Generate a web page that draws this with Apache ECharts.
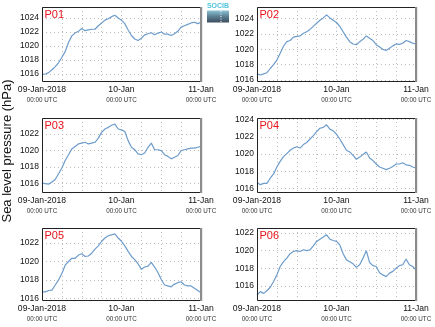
<!DOCTYPE html>
<html><head><meta charset="utf-8">
<script src="https://cdn.jsdelivr.net/npm/echarts@6/dist/echarts.min.js"></script>
<style>html,body{margin:0;padding:0;background:#fff}#c{width:435px;height:327px}</style>
</head><body><div id="c"></div>
<script>
// ---- data ----
const hours = [0,1,2,3,4,5,6,7,8,9,10,11,12,13,14,15,16,17,18,19,20,21,22,23,24,25,26,27,28,29,30,31,32,33,34,35,36,37,38,39,40,41,42,43,44,45,46,47,48];
const xTickHours = [0, 24, 48];
const xTickDates = ['09-Jan-2018', '10-Jan', '11-Jan'];
const xTickTimes = ['00:00 UTC', '00:00 UTC', '00:00 UTC'];
const panelNames = ['P01', 'P02', 'P03', 'P04', 'P05', 'P06'];
const yAxisTitle = 'Sea level pressure (hPa)';

const p01 = [1015.9,1016.0,1016.2,1016.6,1017.05,1017.6,1018.4,1019.2,1020.5,1021.45,1021.85,1022.1,1022.5,1022.2,1022.3,1022.4,1022.4,1022.9,1023.3,1023.7,1023.9,1024.2,1024.4,1024.0,1023.7,1023.2,1022.3,1021.5,1021.0,1020.8,1021.1,1021.6,1021.75,1021.9,1021.6,1021.85,1022.0,1021.7,1021.7,1021.5,1021.75,1022.1,1022.7,1022.9,1023.1,1023.3,1023.4,1023.2,1023.4];
const p02 = [1016.8,1016.65,1016.8,1016.95,1017.5,1018.0,1018.6,1019.5,1020.4,1021.0,1021.15,1021.6,1021.7,1021.75,1022.1,1022.3,1022.6,1023.0,1023.4,1023.8,1024.1,1024.5,1024.1,1023.8,1023.5,1023.0,1022.3,1021.6,1021.0,1020.7,1020.6,1021.0,1021.3,1021.75,1021.45,1021.15,1020.6,1020.3,1020.0,1019.85,1020.15,1020.45,1020.7,1020.65,1020.8,1021.15,1021.0,1020.8,1020.7];
const p03 = [1016.1,1016.0,1015.95,1016.2,1016.5,1017.2,1017.9,1018.8,1019.5,1020.2,1020.5,1020.8,1020.9,1021.0,1020.8,1020.9,1021.0,1021.5,1022.2,1022.6,1022.8,1023.05,1023.2,1022.6,1022.5,1022.3,1021.2,1020.4,1020.1,1019.6,1019.5,1019.7,1020.4,1020.9,1020.1,1020.1,1020.0,1019.5,1019.3,1019.0,1019.2,1019.4,1020.0,1020.1,1020.2,1020.3,1020.3,1020.4,1020.5];
const p04 = [1016.7,1016.45,1016.6,1016.6,1017.2,1017.7,1018.5,1019.15,1019.7,1020.05,1020.45,1020.7,1020.85,1020.7,1021.1,1021.35,1021.75,1022.15,1022.6,1023.0,1023.1,1023.4,1022.9,1022.7,1022.3,1021.75,1021.1,1020.45,1020.25,1019.85,1019.4,1019.65,1019.95,1020.25,1019.55,1019.25,1018.85,1018.5,1018.35,1018.2,1018.35,1018.55,1018.85,1018.85,1019.0,1018.75,1018.7,1018.5,1018.4];
const p05 = [1016.7,1016.7,1016.85,1016.9,1017.45,1018.0,1018.7,1019.6,1020.0,1020.35,1020.35,1020.7,1020.85,1020.55,1020.6,1020.9,1021.35,1021.7,1022.2,1022.55,1022.8,1022.9,1023.0,1022.55,1022.2,1021.7,1021.1,1020.55,1020.2,1019.75,1019.15,1019.4,1019.5,1019.9,1019.4,1018.8,1018.05,1017.45,1017.35,1017.25,1017.55,1017.7,1017.8,1017.45,1017.35,1017.35,1017.1,1016.85,1016.6];
const p06 = [1014.97,1015.35,1015.15,1015.45,1015.85,1016.5,1017.25,1018.2,1018.75,1019.15,1019.65,1019.9,1020.0,1019.9,1020.1,1020.0,1020.1,1020.55,1021.05,1021.3,1021.55,1021.8,1021.3,1021.15,1021.05,1020.65,1019.65,1018.95,1018.75,1018.5,1018.1,1018.4,1019.15,1020.0,1018.65,1018.3,1018.2,1017.5,1017.25,1017.05,1017.45,1017.65,1018.0,1018.3,1018.4,1019.05,1018.4,1018.2,1017.8];

const yTicks01 = [1016,1018,1020,1022,1024];
const yTicks02 = [1016,1018,1020,1022,1024];
const yTicks03 = [1016,1018,1020,1022];
const yTicks04 = [1016,1018,1020,1022,1024];
const yTicks05 = [1016,1018,1020,1022];
const yTicks06 = [1016,1018,1020,1022];

const yMin = [1015.0, 1015.87, 1015.0, 1015.6, 1015.82, 1014.4];
const yMax = [1025.58, 1025.52, 1023.93, 1024.19, 1023.64, 1022.57];

// ---- layout ----
const values = [p01, p02, p03, p04, p05, p06];
const yTicks = [yTicks01, yTicks02, yTicks03, yTicks04, yTicks05, yTicks06];
const gridPos = [
  {left: 42, top: 7, width: 159, height: 74},
  {left: 257, top: 7, width: 159, height: 74},
  {left: 42, top: 118, width: 159, height: 74},
  {left: 257, top: 118, width: 159, height: 74},
  {left: 42, top: 228, width: 159, height: 72},
  {left: 257, top: 228, width: 159, height: 72}
];
const FONT = 'Liberation Sans, Arial, sans-serif';
const gridStyle = {type: [1, 3], color: '#bdbdbd', width: 1};

const chart = echarts.init(document.getElementById('c'), null, {renderer: 'canvas'});
const grids = [], xAxes = [], yAxes = [], series = [], graphics = [];
gridPos.forEach((g, i) => {
  grids.push({left: g.left, top: g.top, width: g.width, height: g.height, show: false});
  xAxes.push({type: 'value', gridIndex: i, min: 0, max: 48, interval: 6,
    axisLine: {show: false}, axisTick: {show: false},
    splitLine: {show: true, lineStyle: gridStyle},
    axisLabel: {margin: 3, showMinLabel: true, showMaxLabel: true,
      formatter: v => {
        const k = xTickHours.indexOf(v);
        if (k < 0) return '';
        return '{d|' + xTickDates[k] + '}\n{t|' + xTickTimes[k] + '}';
      },
      rich: {
        d: {fontSize: 8.6, fontFamily: FONT, color: '#111', lineHeight: 11},
        t: {fontSize: 6.3, fontFamily: FONT, color: '#333', lineHeight: 10}
      }
    }
  });
  yAxes.push({type: 'value', gridIndex: i, min: yMin[i], max: yMax[i],
    axisLine: {show: false},
    axisTick: {show: false, customValues: yTicks[i]},
    splitLine: {show: true, lineStyle: gridStyle},
    axisLabel: {customValues: yTicks[i], margin: 3, fontSize: 8.5, fontFamily: FONT, color: '#111',
      formatter: v => String(Math.round(v))}
  });
  series.push({type: 'line', xAxisIndex: i, yAxisIndex: i, showSymbol: false, symbol: 'none',
    smooth: false, lineStyle: {color: '#6d9ccb', width: 1.2},
    data: hours.map((h, k) => [h, values[i][k]])});
  // frame: left, top, bottom dark; right gray
  graphics.push({type: 'polyline', shape: {points: [[g.left + g.width, g.top + 0.5], [g.left + 0.5, g.top + 0.5], [g.left + 0.5, g.top + g.height + 0.5], [g.left + g.width, g.top + g.height + 0.5]]},
    style: {stroke: '#222', lineWidth: 1, fill: null}, z: 10});
  graphics.push({type: 'rect', shape: {x: g.left + g.width - 1, y: g.top, width: 2.2, height: g.height + 1},
    style: {fill: '#8c8c8c'}, z: 10});
  graphics.push({type: 'text', x: g.left + 2.5, y: g.top + 2.5,
    style: {text: panelNames[i], fill: '#e8141c', font: '11px ' + FONT, textAlign: 'left', textVerticalAlign: 'top'}, z: 10});
});
graphics.push({type: 'text', x: 7.5, y: 151, rotation: Math.PI / 2,
  style: {text: yAxisTitle, fill: '#111', font: '13px ' + FONT, textAlign: 'center', textVerticalAlign: 'middle'}});
// SOCIB logo
graphics.push({type: 'text', x: 218, y: 3,
  style: {text: 'SOCIB', fill: '#4fc3dc', font: 'bold 7px ' + FONT, textAlign: 'center', textVerticalAlign: 'top'}});
graphics.push({type: 'rect', shape: {x: 207, y: 10.5, width: 22, height: 12},
  style: {fill: new echarts.graphic.LinearGradient(0, 0, 0, 1, [
    {offset: 0, color: '#8cc4d4'}, {offset: 0.5, color: '#5a7f93'}, {offset: 1, color: '#3c4c5c'}])}});
graphics.push({type: 'line', shape: {x1: 221, y1: 11, x2: 221, y2: 22},
  style: {stroke: '#ffffff', lineWidth: 1, lineDash: [1, 1.5]}});

chart.setOption({
  animation: false,
  backgroundColor: '#fff',
  grid: grids, xAxis: xAxes, yAxis: yAxes, series: series, graphic: graphics
});
</script></body></html>
